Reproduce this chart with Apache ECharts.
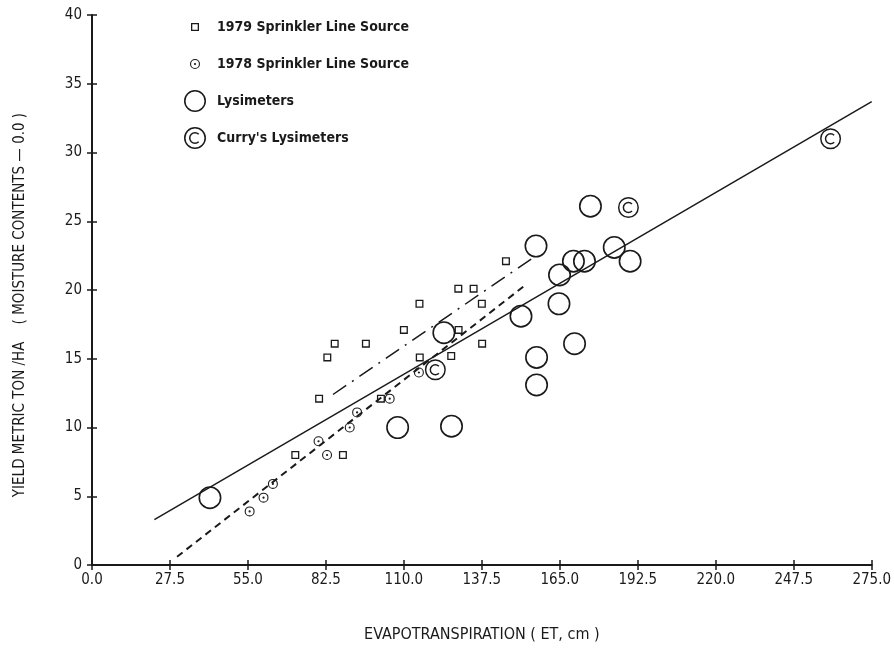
<!DOCTYPE html>
<html>
<head>
<meta charset="utf-8">
<script src="https://cdn.jsdelivr.net/npm/echarts@6/dist/echarts.min.js"></script>
<style>
  html, body { margin: 0; padding: 0; background: #fff; }
  #chart { width: 894px; height: 648px; }
</style>
</head>
<body>
<div id="chart"></div>
<script>
// 读图估计的数据 (ET cm, yield t/ha)
const xTickLabels = ['0.0', '27.5', '55.0', '82.5', '110.0', '137.5', '165.0', '192.5', '220.0', '247.5', '275.0']
const yTickLabels = ['0', '5', '10', '15', '20', '25', '30', '35', '40']

const sprinkler1979 = [
  [146.0, 22.1], [129.2, 20.1], [134.6, 20.1], [115.5, 19.0], [137.5, 19.0],
  [110.0, 17.1], [129.3, 17.1], [85.6, 16.1], [96.6, 16.1], [137.6, 16.1],
  [83.0, 15.1], [115.6, 15.1], [126.7, 15.2], [80.1, 12.1], [101.9, 12.1],
  [71.7, 8.0], [88.5, 8.0]
]
const sprinkler1978 = [
  [55.6, 3.9], [60.5, 4.9], [63.8, 5.9], [79.9, 9.0], [82.9, 8.0],
  [90.9, 10.0], [93.5, 11.1], [105.0, 12.1], [115.3, 14.0]
]
const lysimeters = [
  [41.6, 4.9], [107.8, 10.0], [126.8, 10.1], [124.1, 16.9], [151.3, 18.1],
  [156.6, 23.2], [156.8, 15.1], [156.8, 13.1], [164.9, 21.1], [164.7, 19.0],
  [170.2, 16.1], [169.8, 22.1], [173.7, 22.1], [175.8, 26.1], [184.2, 23.1],
  [189.8, 22.1]
]
const curryLysimeters = [[121.1, 14.2], [189.2, 26.0], [260.5, 31.0]]

// 回归线端点
const fitAll = [[22.0, 3.3], [275.0, 33.7]]
const fit1978 = [[30.0, 0.6], [152.5, 20.3]]
const fit1979 = [[85.0, 12.4], [156.0, 22.4]]

const names = ['1979 Sprinkler Line Source', '1978 Sprinkler Line Source', 'Lysimeters', "Curry's Lysimeters"]

const FONT = '"DejaVu Sans Condensed", "Liberation Sans Narrow", "DejaVu Sans", sans-serif'
const INK = '#1a1a1a'

// symbol paths (filled, rings via opposite winding)
function circ (r, cw) {
  const s = cw ? 1 : 0
  return 'M0,' + (-r) + 'A' + r + ',' + r + ' 0 1,' + s + ' 0,' + r +
    'A' + r + ',' + r + ' 0 1,' + s + ' 0,' + (-r) + 'Z'
}
function ring (R, t) {
  return circ(R, true) + circ(R - t, false)
}
const squarePath = 'M-4,-4L4,-4L4,4L-4,4Z M-2.7,-2.7L-2.7,2.7L2.7,2.7L2.7,-2.7Z'
const dotRingPath = ring(5, 1.1) + circ(1.1, true)
const bigRingPath = ring(10, 1.4)
const cLetter = 'M3.89,-3.89A5.5,5.5 0 1,0 3.89,3.89L2.9,2.9A4.1,4.1 0 1,1 2.9,-2.9Z'
const curryPath = ring(10, 1.4) + cLetter
// 图例用: 用 M 点把包围盒撑到 22x22, 小图标保持小尺寸
const pad = 'M-11,-11M11,11'

const chart = echarts.init(document.getElementById('chart'))

const axisLabelStyle = { color: INK, fontSize: 15, fontFamily: FONT }

const option = {
  backgroundColor: '#fff',
  animation: false,
  grid: { left: 92, right: 16, top: 15, bottom: 83 },
  legend: {
    orient: 'vertical',
    left: 184,
    top: 16,
    padding: 0,
    itemWidth: 34,
    itemHeight: 22,
    itemGap: 15,
    textStyle: { color: INK, fontSize: 14, fontWeight: 'bold', fontFamily: FONT },
    data: [
      { name: names[0], icon: 'path://' + pad + squarePath, itemStyle: { color: INK, borderWidth: 0 } },
      { name: names[1], icon: 'path://' + pad + dotRingPath, itemStyle: { color: INK, borderWidth: 0 } },
      { name: names[2], icon: 'path://' + bigRingPath, itemStyle: { color: INK, borderWidth: 0 } },
      { name: names[3], icon: 'path://' + curryPath, itemStyle: { color: INK, borderWidth: 0 } }
    ]
  },
  xAxis: [
    {
      type: 'value',
      min: 0,
      max: 275,
      interval: 27.5,
      name: 'EVAPOTRANSPIRATION ( ET, cm )',
      nameLocation: 'middle',
      nameGap: 62,
      nameTextStyle: { color: INK, fontSize: 16, fontFamily: FONT },
      axisLine: { lineStyle: { color: INK, width: 2 } },
      axisTick: { show: true, length: 5, lineStyle: { color: INK, width: 1.5 } },
      axisLabel: Object.assign({
        margin: 8,
        formatter: function (v) { return xTickLabels[Math.round(v / 27.5)] }
      }, axisLabelStyle),
      splitLine: { show: false }
    },
    {
      // 仅用于画向内的刻度, 形成十字刻度
      type: 'value',
      position: 'bottom',
      min: 0,
      max: 275,
      interval: 27.5,
      axisLine: { show: false },
      axisTick: { show: true, inside: true, length: 5, lineStyle: { color: INK, width: 1.5 } },
      axisLabel: { show: false },
      splitLine: { show: false }
    }
  ],
  yAxis: [
    {
      type: 'value',
      min: 0,
      max: 40,
      interval: 5,
      name: 'YIELD METRIC TON /HA    ( MOISTURE CONTENTS — 0.0 )',
      nameLocation: 'middle',
      nameGap: 64,
      nameTextStyle: { color: INK, fontSize: 15, fontFamily: FONT, padding: [0, 30, 0, 0] },
      axisLine: { lineStyle: { color: INK, width: 2 } },
      axisTick: { show: true, length: 5, lineStyle: { color: INK, width: 1.5 } },
      axisLabel: Object.assign({
        margin: 10,
        formatter: function (v) { return yTickLabels[Math.round(v / 5)] }
      }, axisLabelStyle),
      splitLine: { show: false }
    },
    {
      type: 'value',
      position: 'left',
      min: 0,
      max: 40,
      interval: 5,
      axisLine: { show: false },
      axisTick: { show: true, inside: true, length: 5, lineStyle: { color: INK, width: 1.5 } },
      axisLabel: { show: false },
      splitLine: { show: false }
    }
  ],
  series: [
    {
      name: 'fitAll',
      type: 'line',
      data: fitAll,
      symbol: 'none',
      silent: true,
      lineStyle: { color: INK, width: 1.5, type: 'solid' },
      z: 1
    },
    {
      name: 'fit1978',
      type: 'line',
      data: fit1978,
      symbol: 'none',
      silent: true,
      lineStyle: { color: INK, width: 2, type: [7, 5] },
      z: 1
    },
    {
      name: 'fit1979',
      type: 'line',
      data: fit1979,
      symbol: 'none',
      silent: true,
      lineStyle: { color: INK, width: 1.5, type: [16, 7, 2, 7] },
      z: 1
    },
    {
      name: names[0],
      type: 'scatter',
      data: sprinkler1979,
      symbol: 'path://' + squarePath,
      symbolSize: 8,
      itemStyle: { color: INK, opacity: 1 },
      z: 3
    },
    {
      name: names[1],
      type: 'scatter',
      data: sprinkler1978,
      symbol: 'path://' + dotRingPath,
      symbolSize: 10,
      itemStyle: { color: INK, opacity: 1 },
      z: 3
    },
    {
      name: names[2],
      type: 'scatter',
      data: lysimeters,
      symbol: 'path://' + bigRingPath,
      symbolSize: 23,
      itemStyle: { color: INK, opacity: 1 },
      z: 3
    },
    {
      name: names[3],
      type: 'scatter',
      data: curryLysimeters,
      symbol: 'path://' + curryPath,
      symbolSize: 21,
      itemStyle: { color: INK, opacity: 1 },
      z: 3
    }
  ]
}

chart.setOption(option)
</script>
</body>
</html>
